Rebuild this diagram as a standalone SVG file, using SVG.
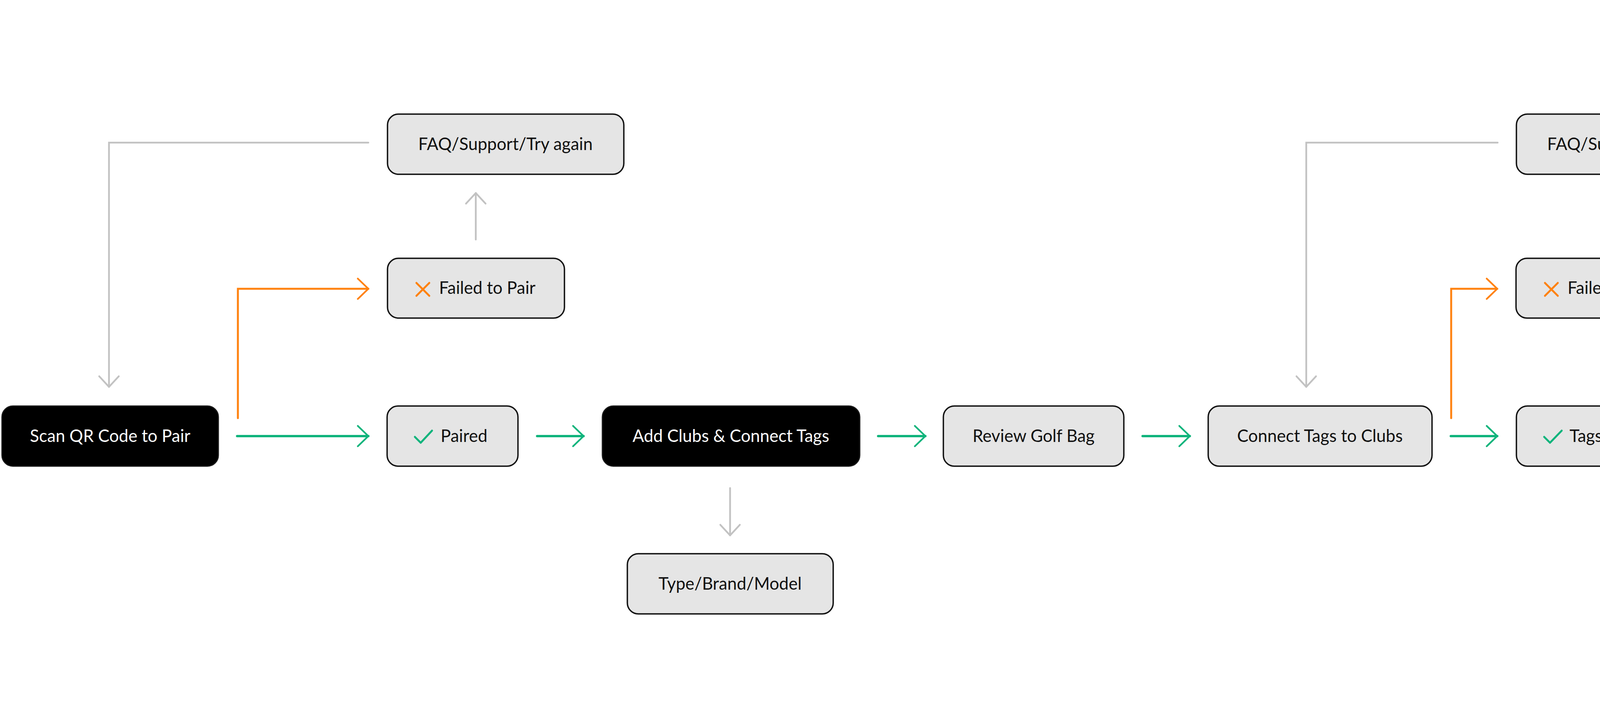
<svg xmlns="http://www.w3.org/2000/svg" width="6966" height="1863" viewBox="0 0 6966 1863">
<style>
.box{fill:#e5e5e5;stroke:#111;stroke-width:3.5}
.dark{fill:#000;stroke:#1a1a1a;stroke-width:3}
.t{font-family:"Lato","Liberation Sans",sans-serif;font-size:43.5px;fill:#111}
.tw{font-family:"Lato","Liberation Sans",sans-serif;font-size:43.5px;fill:#fff}
.m{text-anchor:middle}
.g{fill:none;stroke:#10b47c;stroke-width:6;stroke-linecap:round}
.o{fill:none;stroke:#ff8210;stroke-width:5;stroke-linecap:round;stroke-linejoin:miter}
.y{fill:none;stroke:#c2c2c2;stroke-width:4.5;stroke-linecap:round}
.chk{fill:none;stroke:#10b47c;stroke-width:5;stroke-linecap:round;stroke-linejoin:round}
.xx{fill:none;stroke:#ff8210;stroke-width:5;stroke-linecap:round}
</style>
<defs>
<marker id="ag" markerUnits="userSpaceOnUse" viewBox="-40 -40 50 80" markerWidth="50" markerHeight="80" refX="0" refY="0" orient="auto" overflow="visible"><path d="M-27,-26 L0,0 L-27,26" fill="none" stroke="#10b47c" stroke-width="4.5" stroke-linecap="round" stroke-linejoin="round"/></marker>
<marker id="ao" markerUnits="userSpaceOnUse" viewBox="-40 -40 50 80" markerWidth="50" markerHeight="80" refX="0" refY="0" orient="auto" overflow="visible"><path d="M-27,-26 L0,0 L-27,26" fill="none" stroke="#ff8210" stroke-width="4.5" stroke-linecap="round" stroke-linejoin="round"/></marker>
<marker id="ay" markerUnits="userSpaceOnUse" viewBox="-40 -40 50 80" markerWidth="50" markerHeight="80" refX="0" refY="0" orient="auto" overflow="visible"><path d="M-27,-25 L0,0 L-27,25" fill="none" stroke="#c2c2c2" stroke-width="4.5" stroke-linecap="round" stroke-linejoin="round"/></marker>
</defs>
<rect width="6966" height="1863" fill="#fff"/>
<g id="connectors">
<path class="g" d="M607,1116 H943" marker-end="url(#ag)"/>
<path class="o" d="M609,1070 V739 H943" marker-end="url(#ao)"/>
<path class="y" d="M1218,613 V494" marker-end="url(#ay)"/>
<path class="y" d="M943,365 H279 V990" marker-end="url(#ay)"/>
<path class="g" d="M1375,1116 H1494" marker-end="url(#ag)"/>
<path class="y" d="M1869,1249 V1370" marker-end="url(#ay)"/>
<path class="g" d="M2248,1116 H2369" marker-end="url(#ag)"/>
<path class="g" d="M2925,1116 H3046" marker-end="url(#ag)"/>
<path class="g" d="M3714,1116 H3833" marker-end="url(#ag)"/>
<path class="o" d="M3715,1070 V739 H3833" marker-end="url(#ao)"/>
<path class="y" d="M4160,613 V492" marker-end="url(#ay)"/>
<path class="y" d="M3834,365 H3344 V990" marker-end="url(#ay)"/>
<path class="g" d="M4452,1116 H4572" marker-end="url(#ag)"/>
<path class="g" d="M5260,1116 H5380" marker-end="url(#ag)"/>
<path class="o" d="M5756,990 V868" marker-end="url(#ao)"/>
<path class="y" d="M5379,748 H4894 V1009" marker-end="url(#ay)"/>
<path class="g" d="M6140,1116 H6262" marker-end="url(#ag)"/>
</g>
<g id="scan"><rect class="dark" x="5" y="1039" width="554" height="154" rx="28"/><text class="tw m" x="282" y="1131">Scan QR Code to Pair</text></g>
<g id="paired"><rect class="box" x="991" y="1039" width="335" height="154" rx="28"/><path class="chk" d="M1062,1118 L1077,1133 L1106,1102"/><text class="t" x="1128" y="1131">Paired</text></g>
<g id="failed-pair"><rect class="box" x="992" y="661" width="453" height="153" rx="28"/><path class="xx" d="M1066,724 L1099,757 M1099,724 L1066,757"/><text class="t" x="1124" y="752">Failed to Pair</text></g>
<g id="faq1"><rect class="box" x="992" y="292" width="605" height="154" rx="28"/><text class="t m" x="1294" y="384">FAQ/Support/Try again</text></g>
<g id="add-clubs"><rect class="dark" x="1542" y="1039" width="659" height="154" rx="28"/><text class="tw m" x="1871" y="1131">Add Clubs &amp; Connect Tags</text></g>
<g id="type-brand"><rect class="box" x="1606" y="1417" width="527" height="154" rx="28"/><text class="t m" x="1869" y="1509">Type/Brand/Model</text></g>
<g id="review"><rect class="box" x="2415" y="1039" width="462" height="154" rx="28"/><text class="t m" x="2646" y="1131">Review Golf Bag</text></g>
<g id="connect-tags"><rect class="box" x="3093" y="1039" width="573" height="154" rx="28"/><text class="t m" x="3379" y="1131">Connect Tags to Clubs</text></g>
<g id="failed-connect"><rect class="box" x="3881" y="661" width="544" height="153" rx="28"/><path class="xx" d="M3955,724 L3988,757 M3988,724 L3955,757"/><text class="t" x="4013" y="752">Failed to Connect</text></g>
<g id="faq2"><rect class="box" x="3882" y="292" width="605" height="154" rx="28"/><text class="t m" x="4184" y="384">FAQ/Support/Try again</text></g>
<g id="tags-connected"><rect class="box" x="3882" y="1039" width="521" height="154" rx="28"/><path class="chk" d="M3953,1118 L3968,1133 L3998,1102"/><text class="t" x="4018" y="1131">Tags Connected</text></g>
<g id="select-pro"><rect class="dark" x="4621" y="1039" width="592" height="154" rx="28"/><text class="tw m" x="4917" y="1131">Select your PRO device</text></g>
<g id="faq3"><rect class="box" x="5430" y="669" width="604" height="154" rx="28"/><text class="t m" x="5732" y="761">FAQ/Support/Try again</text></g>
<g id="pro-connected"><rect class="box" x="5430" y="1039" width="662" height="154" rx="28"/><path class="chk" d="M5500,1118 L5515,1133 L5546,1102"/><text class="t" x="5566" y="1131">PRO Device Connected</text></g>
<g id="ready"><rect class="box" x="6308" y="1039" width="649" height="154" rx="28"/><path class="chk" d="M6379,1118 L6394,1133 L6424,1102"/><text class="t" x="6444" y="1131">Ready to hit the course</text></g>
</svg>
